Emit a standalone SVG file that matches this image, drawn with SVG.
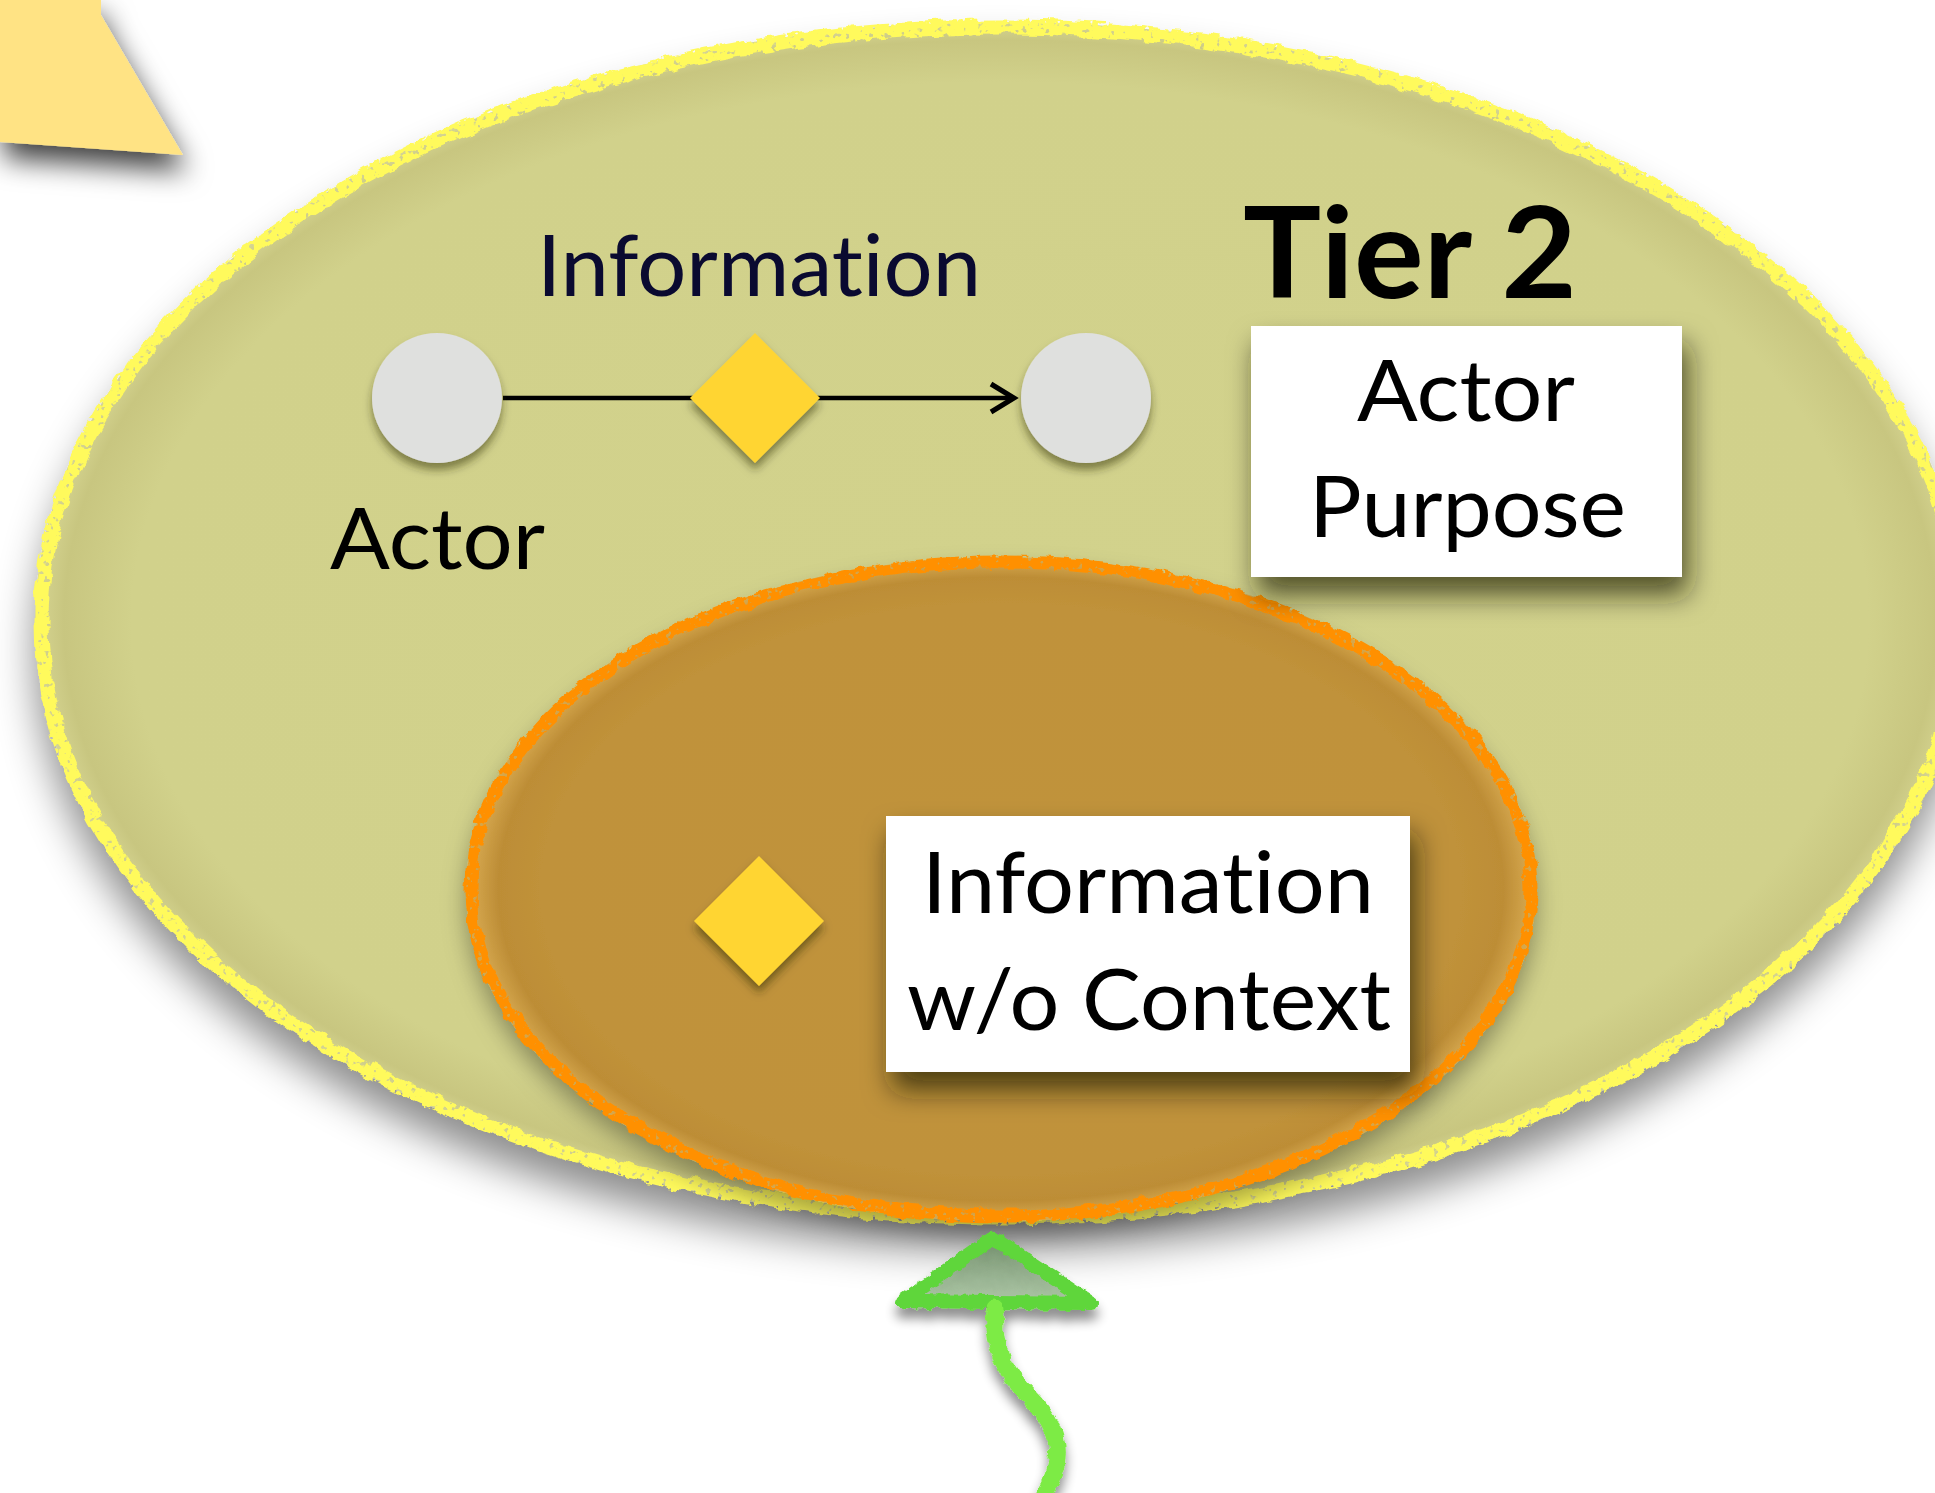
<svg xmlns="http://www.w3.org/2000/svg" width="1935" height="1493" viewBox="0 0 1935 1493">
  <defs>
    <style>
      text { font-variant-ligatures: none; font-feature-settings: "liga" 0, "clig" 0; }
      .lbl { font-family: Lato, "Open Sans", "Liberation Sans", sans-serif; font-size: 85px; fill: #000; }
      .navy { fill: #0a0a30; }
      .title { font-family: Lato, "Open Sans", "Liberation Sans", sans-serif; font-weight: 700; font-size: 126px; fill: #000; }
      .card { fill: #ffffff; filter: url(#cardShadow); }
      .actor { fill: #dfe0de; filter: url(#smallShadow); }
      .info { fill: #ffd530; filter: url(#smallShadow); }
      .chalk { fill: none; filter: url(#rough); }
    </style>
    <radialGradient id="tierFill" cx="0.5" cy="0.5" r="0.5">
      <stop offset="0" stop-color="#d2d28c"/>
      <stop offset="0.9" stop-color="#d1d18b"/>
      <stop offset="0.97" stop-color="#c8c680"/>
      <stop offset="1" stop-color="#d6d592"/>
    </radialGradient>
    <radialGradient id="ctxFill" cx="0.5" cy="0.5" r="0.5">
      <stop offset="0" stop-color="#c0933b"/>
      <stop offset="0.86" stop-color="#c0923a"/>
      <stop offset="0.94" stop-color="#bd8d36"/>
      <stop offset="0.985" stop-color="#d3a54c"/>
      <stop offset="1" stop-color="#d6a84e"/>
    </radialGradient>
    <linearGradient id="headFill" x1="0" y1="0" x2="0" y2="1">
      <stop offset="0" stop-color="#6f8f68"/>
      <stop offset="1" stop-color="#a9c6a1"/>
    </linearGradient>
    <filter id="bigShadow" x="-10%" y="-10%" width="120%" height="125%">
      <feDropShadow dx="0" dy="28" stdDeviation="20" flood-color="#000" flood-opacity="0.45"/>
    </filter>
    <filter id="ctxShadow" x="-10%" y="-10%" width="120%" height="130%">
      <feDropShadow dx="0" dy="14" stdDeviation="12" flood-color="#000" flood-opacity="0.35"/>
    </filter>
    <filter id="cardShadow" x="-20%" y="-20%" width="150%" height="160%">
      <feDropShadow dx="6" dy="18" stdDeviation="14" flood-color="#1a1a00" flood-opacity="0.7"/>
    </filter>
    <filter id="smallShadow" x="-30%" y="-30%" width="160%" height="170%">
      <feDropShadow dx="0" dy="7" stdDeviation="4" flood-color="#2a2a00" flood-opacity="0.5"/>
    </filter>
    <filter id="cornerShadow" x="-50%" y="-50%" width="200%" height="220%">
      <feDropShadow dx="4" dy="16" stdDeviation="14" flood-color="#000" flood-opacity="0.75"/>
    </filter>
    <!-- chalk texture: wobble the outline, then punch a few holes into it -->
    <filter id="rough" x="-5%" y="-5%" width="110%" height="110%">
      <feTurbulence type="fractalNoise" baseFrequency="0.07" numOctaves="2" seed="3" result="n"/>
      <feDisplacementMap in="SourceGraphic" in2="n" scale="9" xChannelSelector="R" yChannelSelector="G" result="d"/>
      <feTurbulence type="fractalNoise" baseFrequency="0.18" numOctaves="2" seed="11" result="g"/>
      <feColorMatrix in="g" type="matrix" values="0 0 0 0 0  0 0 0 0 0  0 0 0 0 0  0 0 0 -12 8.6" result="mask"/>
      <feComposite in="d" in2="mask" operator="in"/>
    </filter>
    <filter id="roughGreen" x="-20%" y="-20%" width="140%" height="140%">
      <feTurbulence type="fractalNoise" baseFrequency="0.12" numOctaves="2" seed="7" result="n"/>
      <feDisplacementMap in="SourceGraphic" in2="n" scale="7" xChannelSelector="R" yChannelSelector="G" result="d"/>
      <feGaussianBlur in="d" stdDeviation="6" result="b"/>
      <feOffset in="b" dx="0" dy="10" result="o"/>
      <feComponentTransfer in="o" result="s">
        <feFuncA type="linear" slope="0.45"/>
      </feComponentTransfer>
      <feFlood flood-color="#000"/>
      <feComposite in2="s" operator="in" result="sh"/>
      <feMerge>
        <feMergeNode in="sh"/>
        <feMergeNode in="d"/>
      </feMerge>
    </filter>
  </defs>

  <rect width="1935" height="1493" fill="#ffffff"/>

  <!-- corner of a neighbouring tier -->
  <g id="corner-shape">
    <polygon points="0,0 101,0 101,15 183,155 0,142" fill="#ffe384" filter="url(#cornerShadow)"/>
  </g>

  <!-- outer tier region -->
  <g id="tier2-region">
    <ellipse cx="1000" cy="622" rx="965" ry="600" fill="url(#tierFill)" filter="url(#bigShadow)"/>
    <ellipse class="chalk" cx="1000" cy="622" rx="959" ry="595" stroke="#fffa5c" stroke-width="15"/>
  </g>

  <!-- inner context region -->
  <g id="context-region">
    <ellipse cx="1001" cy="889" rx="535" ry="332" fill="url(#ctxFill)" filter="url(#ctxShadow)"/>
    <ellipse class="chalk" cx="1001" cy="889" rx="530" ry="327" stroke="#ff9000" stroke-width="13"/>
  </g>

  <g id="tier-title">
    <text class="title" x="1243" y="298" textLength="334" lengthAdjust="spacingAndGlyphs">Tier 2</text>
  </g>

  <g id="information-label">
    <text class="lbl navy" x="537" y="296" textLength="444" lengthAdjust="spacingAndGlyphs">Information</text>
  </g>

  <g id="actor-label">
    <text class="lbl" x="330" y="569" textLength="215" lengthAdjust="spacingAndGlyphs">Actor</text>
  </g>

  <!-- flow of information between two actors -->
  <g id="connectors">
    <line x1="503" y1="398" x2="1013" y2="398" stroke="#000" stroke-width="4.5"/>
    <path d="M 991 384 L 1014 398 L 991 412" fill="none" stroke="#000" stroke-width="5"/>
    <g id="green-arrow" filter="url(#roughGreen)">
      <polygon points="993,1238 903,1301 1091,1303" fill="url(#headFill)" fill-opacity="0.85" stroke="#5ed63a" stroke-width="14" stroke-linejoin="round"/>
      <path d="M 995 1308 C 992 1348, 1004 1372, 1030 1397 C 1060 1427, 1066 1458, 1045 1493" fill="none" stroke="#7deb45" stroke-width="17" stroke-linecap="round"/>
    </g>
  </g>

  <g id="actor-source">
    <circle class="actor" cx="437" cy="398" r="65"/>
  </g>

  <g id="info-item">
    <polygon class="info" points="755,333 820,398 755,463 690,398"/>
  </g>

  <g id="actor-target">
    <circle class="actor" cx="1086" cy="398" r="65"/>
  </g>

  <g id="purpose-box">
    <rect class="card" x="1251" y="326" width="431" height="251"/>
    <text class="lbl" x="1357" y="421" textLength="218" lengthAdjust="spacingAndGlyphs">Actor</text>
    <text class="lbl" x="1309" y="537" textLength="317" lengthAdjust="spacingAndGlyphs">Purpose</text>
  </g>

  <g id="bare-info">
    <polygon class="info" points="759,856 824,921 759,986 694,921"/>
  </g>

  <g id="context-box">
    <rect class="card" x="886" y="816" width="524" height="256"/>
    <text class="lbl" x="922" y="913" textLength="452" lengthAdjust="spacingAndGlyphs">Information</text>
    <text class="lbl" x="907" y="1030" textLength="484" lengthAdjust="spacingAndGlyphs">w/o Context</text>
  </g>
</svg>
